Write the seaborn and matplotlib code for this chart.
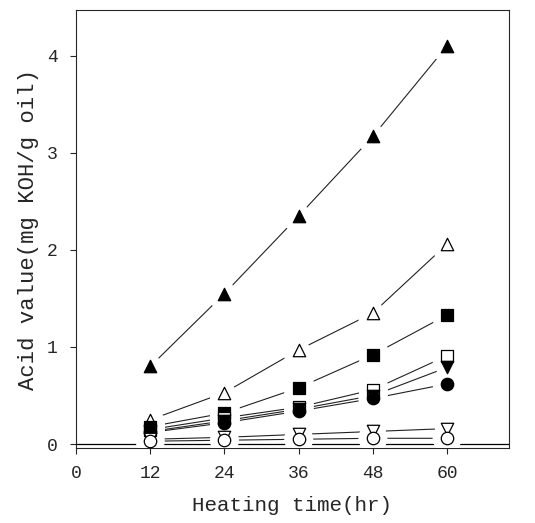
import numpy as np
import pandas as pd
import seaborn as sns
import matplotlib.pyplot as plt
import matplotlib.patheffects as pe

# heating time (hr)
hours = [12, 24, 36, 48, 60]

# acid value (mg KOH/g oil), one list per sample
tri_up_filled = [0.80, 1.55, 2.35, 3.17, 4.10]
tri_up_open = [0.25, 0.53, 0.97, 1.35, 2.06]
sq_filled = [0.18, 0.32, 0.58, 0.92, 1.33]
sq_open = [0.15, 0.27, 0.38, 0.56, 0.91]
tri_down_filled = [0.13, 0.24, 0.36, 0.50, 0.79]
circ_filled = [0.12, 0.22, 0.34, 0.47, 0.62]
tri_down_open = [0.05, 0.07, 0.10, 0.13, 0.16]
circ_open = [0.03, 0.04, 0.05, 0.06, 0.06]

series = {
    "A": (tri_up_filled, "^", "black"),
    "B": (tri_up_open, "^", "white"),
    "C": (sq_filled, "s", "black"),
    "D": (sq_open, "s", "white"),
    "E": (tri_down_filled, "v", "black"),
    "F": (circ_filled, "o", "black"),
    "G": (tri_down_open, "v", "white"),
    "H": (circ_open, "o", "white"),
}

rows = []
for name, (vals, m, fc) in series.items():
    for h, v in zip(hours, vals):
        rows.append({"hours": h, "acid": v, "sample": name})
df = pd.DataFrame(rows)

sns.set_style("ticks")
plt.rcParams["font.family"] = ["Liberation Mono", "DejaVu Sans Mono"]

fig = plt.figure(figsize=(5.35, 5.23), dpi=100)
ax = fig.add_axes([76 / 535, 1 - 448 / 523, (509 - 76) / 535, (448 - 10) / 523])

sns.lineplot(data=df, x="hours", y="acid", units="sample", estimator=None,
             color="#222222", linewidth=0.8, ax=ax, legend=False, zorder=2)

# white halo so the lines stop short of the markers
halo = [pe.Stroke(linewidth=12, foreground="white")]
for name, (vals, m, fc) in series.items():
    sc = ax.scatter(hours, vals, marker=m, s=80, facecolor="white",
                    edgecolor="white", linewidth=1, zorder=3)
    sc.set_path_effects(halo)
for name, (vals, m, fc) in series.items():
    ax.scatter(hours, vals, marker=m, s=80, facecolor=fc,
               edgecolor="black", linewidth=0.9, zorder=4)

ax.axhline(0, color="black", linewidth=0.9, zorder=1)

ax.set_xlim(0, 70)
ax.set_ylim(-0.04, 4.47)
ax.set_xticks([0, 12, 24, 36, 48, 60])
ax.set_yticks([0, 1, 2, 3, 4])
ax.tick_params(axis="x", direction="out", length=4, width=0.8, labelsize=13, pad=8)
ax.tick_params(axis="y", direction="out", length=4, width=0.8, labelsize=13, pad=9)
for s in ax.spines.values():
    s.set_linewidth(0.8)

ax.set_xlabel("Heating time(hr)", fontsize=15, labelpad=10)
ax.set_ylabel("Acid value(mg KOH/g oil)", fontsize=16, labelpad=6)

fig.savefig("out.png", dpi=100)
